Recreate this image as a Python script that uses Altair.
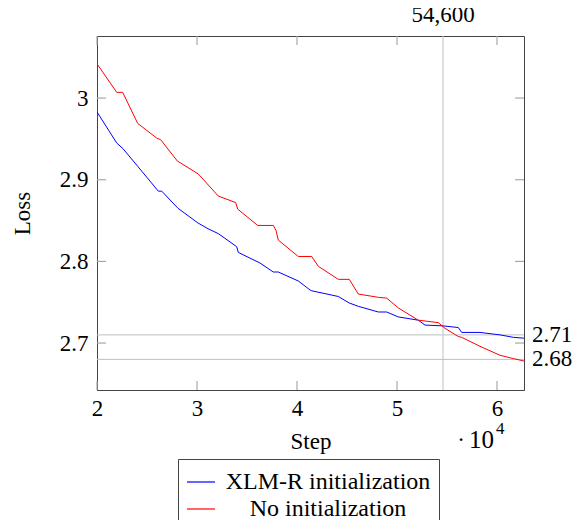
import altair as alt
import pandas as pd

# ---- data (step, loss) ----
xlmr_step = [20000, 21970, 22600, 24100, 26130, 26470, 28100, 30100, 31100, 32130,
             33970, 34130, 36300, 37630, 38130, 40130, 41300, 41470, 44130, 45230,
             46130, 48130, 48970, 50130, 52130, 52800, 54630, 56130, 56470, 58300,
             60300, 61630, 62700]
xlmr_loss = [2.983, 2.945, 2.938, 2.916, 2.886, 2.886, 2.865, 2.847, 2.840, 2.834,
             2.818, 2.811, 2.798, 2.787, 2.787, 2.776, 2.765, 2.764, 2.757, 2.749,
             2.745, 2.738, 2.738, 2.732, 2.728, 2.722, 2.721, 2.719, 2.713, 2.713,
             2.710, 2.707, 2.706]

noinit_step = [20000, 21970, 22570, 24070, 25970, 26370, 28030, 30130, 32130, 33870,
               34070, 36070, 37630, 37900, 38130, 40130, 41470, 42130, 44130, 45230,
               46130, 48130, 48970, 50130, 52130, 52800, 54130, 54800, 56130, 56470,
               58300, 60300, 61630, 62700]
noinit_loss = [3.042, 3.007, 3.007, 2.969, 2.951, 2.949, 2.923, 2.907, 2.880, 2.872,
               2.864, 2.844, 2.844, 2.838, 2.826, 2.806, 2.806, 2.794, 2.778, 2.778,
               2.760, 2.756, 2.755, 2.743, 2.728, 2.727, 2.725, 2.718, 2.708, 2.707,
               2.696, 2.685, 2.681, 2.678]

series_names = ["XLM-R initialization", "No initialization"]
series_colors = ["#0000ff", "#ff0000"]

x_ticks = [20000, 30000, 40000, 50000, 60000]
y_ticks = [2.7, 2.8, 2.9, 3.0]
x_domain = [20000, 62700]
y_domain = [2.6425, 3.076]

hlines = [2.71, 2.68]
hline_labels = ["2.71", "2.68"]
vline = [54600]
vline_labels = ["54,600"]

W, H = 427, 354
FONT = "Liberation Serif"
FS = 23
LFS = 24
TICK = 9
TICK_COLOR = "#a8a8a8"

rows = []
for s, l in zip(xlmr_step, xlmr_loss):
    rows.append({"step": s, "loss": l, "series": series_names[0]})
for s, l in zip(noinit_step, noinit_loss):
    rows.append({"step": s, "loss": l, "series": series_names[1]})
df = pd.DataFrame(rows)

xs = alt.Scale(domain=x_domain, nice=False, zero=False)
ys = alt.Scale(domain=y_domain, nice=False, zero=False)

lines = alt.Chart(df).mark_line(strokeWidth=1, clip=True).encode(
    x=alt.X("step:Q", scale=xs,
            axis=alt.Axis(orient="bottom", values=x_ticks, ticks=False, grid=False,
                          labelExpr="format(datum.value/10000, 'd')",
                          labelFont=FONT, labelFontSize=FS,
                          titleFont=FONT, titleFontSize=FS,
                          title="Step", labelPadding=7, titlePadding=10,
                          domainColor="#444", labelFlush=False)),
    y=alt.Y("loss:Q", scale=ys,
            axis=alt.Axis(orient="left", values=y_ticks, ticks=False, grid=False,
                          labelExpr="datum.value == 3 ? '3' : format(datum.value, '.1f')",
                          labelFont=FONT, labelFontSize=FS,
                          titleFont=FONT, titleFontSize=FS,
                          title="Loss", labelPadding=9, titlePadding=25,
                          domainColor="#444", labelFlush=False)),
    color=alt.Color("series:N",
                    scale=alt.Scale(domain=series_names, range=series_colors),
                    legend=alt.Legend(orient="none", legendX=81, legendY=423,
                                      title=None, symbolType="stroke",
                                      symbolSize=784, symbolStrokeWidth=1.2,
                                      labelAlign="center", labelOffset=112,
                                      labelLimit=400,
                                      direction="vertical")),
)

# inward ticks drawn as short rules at the tick values
xt = pd.DataFrame({"step": x_ticks})
yt = pd.DataFrame({"loss": y_ticks})
tick_bottom = alt.Chart(xt).mark_rule(color=TICK_COLOR, strokeWidth=1.2).encode(
    x=alt.X("step:Q", scale=xs, axis=None), y=alt.value(H), y2=alt.value(H - TICK))
tick_top = alt.Chart(xt).mark_rule(color=TICK_COLOR, strokeWidth=1.2).encode(
    x=alt.X("step:Q", scale=xs, axis=None), y=alt.value(0), y2=alt.value(TICK))
tick_left = alt.Chart(yt).mark_rule(color=TICK_COLOR, strokeWidth=1.2).encode(
    y=alt.Y("loss:Q", scale=ys, axis=None), x=alt.value(0), x2=alt.value(TICK))
tick_right = alt.Chart(yt).mark_rule(color=TICK_COLOR, strokeWidth=1.2).encode(
    y=alt.Y("loss:Q", scale=ys, axis=None), x=alt.value(W), x2=alt.value(W - TICK))

hdf = pd.DataFrame({"loss": hlines, "label": hline_labels, "step": [x_domain[1]] * 2})
hrules = alt.Chart(hdf).mark_rule(color="#c0c0c0", strokeWidth=1).encode(
    y=alt.Y("loss:Q", scale=ys, axis=None))
htext = alt.Chart(hdf).mark_text(align="left", baseline="middle", dx=8,
                                 font=FONT, fontSize=FS, color="black").encode(
    x=alt.X("step:Q", scale=xs, axis=None), y=alt.Y("loss:Q", scale=ys, axis=None),
    text="label:N")

vdf = pd.DataFrame({"step": vline, "label": vline_labels})
vrule = alt.Chart(vdf).mark_rule(color="#c0c0c0", strokeWidth=1).encode(
    x=alt.X("step:Q", scale=xs, axis=None))
vtext = alt.Chart(vdf).mark_text(align="center", baseline="middle",
                                 font=FONT, fontSize=FS, color="black").encode(
    x=alt.X("step:Q", scale=xs, axis=None), y=alt.value(-21), text="label:N")

dot = alt.Chart(pd.DataFrame({"t": ["\u00b7"]})).mark_text(
    align="center", baseline="middle", font=FONT, fontSize=FS, color="black").encode(
    x=alt.value(364), y=alt.value(404), text="t:N")
ten = alt.Chart(pd.DataFrame({"t": ["10"]})).mark_text(
    align="left", baseline="middle", font=FONT, fontSize=25, color="black").encode(
    x=alt.value(372), y=alt.value(404), text="t:N")
exp4 = alt.Chart(pd.DataFrame({"t": ["4"]})).mark_text(
    align="left", baseline="middle", font=FONT, fontSize=17, color="black").encode(
    x=alt.value(399), y=alt.value(393), text="t:N")

chart = alt.layer(
    hrules, vrule, lines, tick_bottom, tick_top, tick_left, tick_right,
    htext, vtext, dot, ten, exp4
).resolve_axis(x="independent", y="independent").properties(
    width=W, height=H,
    autosize=alt.AutoSizeParams(type="none"),
    padding={"left": 89, "top": 28, "right": 52, "bottom": 130},
).configure_view(stroke="#444", strokeWidth=1).configure_axis(
    labelFont=FONT, titleFont=FONT, labelFontSize=FS, titleFontSize=FS,
    labelColor="black", titleColor="black", titleFontWeight="normal",
).configure_legend(
    labelFont=FONT, labelFontSize=LFS, labelColor="black",
    strokeColor="#444", fillColor="white", padding=8,
    rowPadding=0, cornerRadius=0,
)

chart.save("out.html", embed_options={"renderer": "svg", "actions": False})
